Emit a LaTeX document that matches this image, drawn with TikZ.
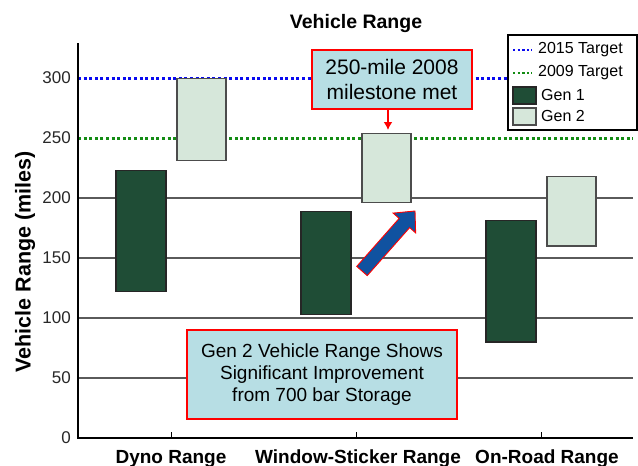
\documentclass[tikz,border=0pt]{standalone}
\usepackage{fontspec}
\setmainfont{Liberation Sans}
\usetikzlibrary{arrows.meta}
\definecolor{genone}{RGB}{31,77,54}
\definecolor{gentwo}{RGB}{214,231,218}
\definecolor{annfill}{RGB}{183,222,228}
\definecolor{arrowblue}{RGB}{16,82,160}
\definecolor{tgtgreen}{RGB}{20,140,20}
\definecolor{tgtblue}{RGB}{10,10,240}
\definecolor{gridc}{RGB}{90,90,90}
\definecolor{ticktext}{RGB}{40,40,40}
\begin{document}
\begin{tikzpicture}[x=1pt,y=-1pt,
  gridline/.style={gridc,line width=1.2pt},
  axisline/.style={black,line width=2pt},
  target/.style={line width=3pt,dash pattern=on 3pt off 2.6pt},
  gonebar/.style={fill=genone,draw=black!85,line width=1.2pt},
  gtwobar/.style={fill=gentwo,draw=black!70,line width=1.2pt},
  ticklab/.style={anchor=east,font=\fontsize{17}{17}\selectfont,text=ticktext,inner sep=0pt},
  catlab/.style={anchor=base,font=\fontsize{19}{19}\bfseries,inner sep=0pt},
  annbox/.style={draw=red,fill=annfill,line width=2.4pt,align=center,inner sep=0pt},
  legtext/.style={anchor=west,font=\fontsize{16}{16}\selectfont,inner sep=0pt}
]
\useasboundingbox (0,0) rectangle (638,466);
\fill[white] (0,0) rectangle (638,466);

% title
\node[anchor=base,font=\fontsize{19.5}{19.5}\bfseries\selectfont,inner sep=0pt] (title) at (356,28) {Vehicle Range};

% gridlines
\foreach \v in {50,100,150,200}{
  \draw[gridline] (78,{438-1.2*\v}) -- (633,{438-1.2*\v});
}
\draw[target,tgtgreen] (78,{438-1.2*250}) -- (633,{438-1.2*250});
\draw[target,tgtblue] (78,{438-1.2*300}) -- (633,{438-1.2*300});

% tick labels
\foreach \v in {0,50,100,150,200,250,300}{
  \node[ticklab] (yt\v) at (71,{438-1.2*\v}) {\v};
}

% axis label
\node[rotate=90,font=\fontsize{21.5}{21.5}\bfseries\selectfont,inner sep=0pt] (ylab) at (25,262) {Vehicle Range (miles)};

% bars
\foreach \c/\lo/\hi/\loo/\hii in {171/122/223/231/299.5, 356/103/189/196/254, 541/80/181/160/218}{
  \draw[gonebar] ({\c-55},{438-1.2*\lo}) rectangle ({\c-5},{438-1.2*\hi});
  \draw[gtwobar] ({\c+6},{438-1.2*\loo}) rectangle ({\c+55},{438-1.2*\hii});
}

% axes
\draw[axisline] (78,43) -- (78,438) -- (633,438);
\foreach \c in {171,356,541}{
  \draw[black,line width=1pt] (\c,438) -- (\c,432);
}

% category labels
\node[catlab] (c1) at (171,463) {Dyno Range};
\node[catlab] (c2) at (358,463) {Window-Sticker Range};
\node[catlab] (c3) at (547,463) {On-Road Range};

% blue block arrow
\filldraw[fill=arrowblue,draw=red,line width=0.9pt,line join=miter]
  (356.75,266.4) -- (399.15,218.4) -- (393.15,213.1) -- (415,211) -- (415.65,232.9) -- (409.65,227.6) -- (367.25,275.6) -- cycle;

% annotation top
\node[annbox,minimum width=160pt,minimum height=59pt,font=\fontsize{21}{25}\selectfont] (ann1) at (392,79.5) {250-mile 2008\\milestone met};
\coordinate (ann1tip) at (388,130);
\draw[red,line width=2.2pt,-{Latex[length=8pt,width=9pt]}] (ann1.south -| ann1tip) -- (ann1tip);

% annotation bottom
\node[annbox,minimum width=270pt,minimum height=89pt,font=\fontsize{19}{22}\selectfont] (ann2) at (322,374.5) {Gen 2 Vehicle Range Shows\\Significant Improvement\\from 700 bar Storage};

% legend
\node[draw=black,line width=1.2pt,fill=white,minimum width=129pt,minimum height=95pt,inner sep=0pt] (legend) at (572.5,82.5) {};
\coordinate (l1a) at (513,50); \coordinate (l1b) at (532,50);
\draw[target,tgtblue,line width=2.4pt,dash pattern=on 2.4pt off 2.2pt] (l1a) -- (l1b);
\node[legtext] (lt1) at (538,50) {2015 Target};
\coordinate (l2a) at (513,73); \coordinate (l2b) at (532,73);
\draw[target,tgtgreen,line width=2.4pt,dash pattern=on 2.4pt off 2.2pt] (l2a) -- (l2b);
\node[legtext] (lt2) at (538,73) {2009 Target};
\draw[gonebar] (513,87) rectangle (536,104);
\node[legtext] (lt3) at (541,95) {Gen 1};
\draw[gtwobar] (513,108) rectangle (536,125);
\node[legtext] (lt4) at (541,116) {Gen 2};
\end{tikzpicture}
\end{document}
